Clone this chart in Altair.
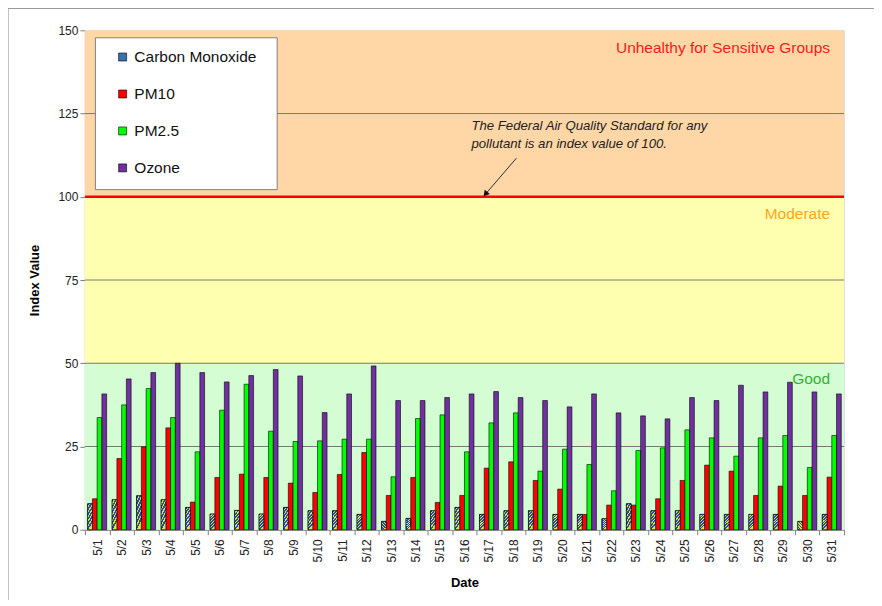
import altair as alt
import pandas as pd

dates = ["5/1", "5/2", "5/3", "5/4", "5/5", "5/6", "5/7", "5/8", "5/9", "5/10",
         "5/11", "5/12", "5/13", "5/14", "5/15", "5/16", "5/17", "5/18", "5/19", "5/20",
         "5/21", "5/22", "5/23", "5/24", "5/25", "5/26", "5/27", "5/28", "5/29", "5/30", "5/31"]
series = ["Carbon Monoxide", "PM10", "PM2.5", "Ozone"]
colors = ["#3a6fb0", "#ff0000", "#00ff00", "#7030a0"]

co = [7.8, 9, 10.2, 9, 6.7, 4.7, 5.8, 4.7, 6.7, 5.7, 5.7, 4.6, 2.5, 3.4, 5.7, 6.7,
      4.6, 5.7, 5.7, 4.6, 4.6, 3.3, 7.8, 5.7, 5.7, 4.6, 4.6, 4.6, 4.6, 2.5, 4.6]
pm10 = [9.3, 21.4, 24.9, 30.6, 8.3, 15.7, 16.7, 15.7, 14, 11.2, 16.6, 23.2, 10.3, 15.7, 8.2, 10.3,
        18.5, 20.4, 14.8, 12.2, 4.6, 7.4, 7.4, 9.3, 14.8, 19.4, 17.6, 10.3, 13.1, 10.3, 15.8]
pm25 = [33.7, 37.5, 42.4, 33.7, 23.4, 35.9, 43.7, 29.6, 26.5, 26.7, 27.2, 27.2, 15.9, 33.4, 34.5, 23.4,
        32.1, 35.1, 17.6, 24.2, 19.6, 11.7, 23.8, 24.6, 30, 27.6, 22.1, 27.6, 28.3, 18.7, 28.3]
ozone = [40.8, 45.3, 47.2, 50, 47.2, 44.4, 46.3, 48.1, 46.2, 35.2, 40.8, 49.2, 38.8, 38.8, 39.7, 40.8,
         41.5, 39.7, 38.8, 36.9, 40.8, 35.1, 34.2, 33.3, 39.7, 38.8, 43.4, 41.4, 44.3, 41.4, 40.8]

band_low = [0, 50, 100]
band_high = [50, 100, 150]
band_colors = ["#d4fdd4", "#ffffb0", "#ffd6a6"]
grid_values = [25, 50, 75, 125]
y_ticks = [0, 25, 50, 75, 100, 125, 150]

region_labels = ["Good", "Moderate", "Unhealthy for Sensitive Groups"]
region_label_y = [45.3, 94.8, 144.6]
region_label_colors = ["#33b033", "#ffa520", "#ff1a1a"]

note_lines = ["The Federal Air Quality Standard for any", "pollutant is an index value of 100."]
standard_value = [100]

rows = []
for name, vals in zip(series, [co, pm10, pm25, ozone]):
    for d, v in zip(dates, vals):
        rows.append({"Date": d, "series": name, "value": v})
df = pd.DataFrame(rows)

bands_df = pd.DataFrame({"lo": band_low, "hi": band_high, "c": band_colors})
grid_df = pd.DataFrame({"g": grid_values})
labels_df = pd.DataFrame({"t": region_labels, "y": region_label_y, "c": region_label_colors})
std_df = pd.DataFrame({"v": standard_value})

W, H = 760, 500
FONT = "Liberation Sans"
YT = "Index Value"

yscale = alt.Scale(domain=[0, 150], nice=False, zero=True)
yaxis = alt.Axis(values=y_ticks, grid=False, labelFontSize=12, labelColor="#222",
                 titleFontSize=13, titleFontWeight="bold", titlePadding=16,
                 domainColor="#808080", tickColor="#808080", tickSize=5)

bands = alt.Chart(bands_df).mark_rect().encode(
    x=alt.value(0), x2=alt.value(W),
    y=alt.Y("lo:Q", scale=yscale, axis=yaxis, title=YT), y2="hi:Q",
    fill=alt.Fill("c:N", scale=None),
)

grid = alt.Chart(grid_df).mark_rule(color="#777777", strokeWidth=1).encode(
    x=alt.value(0), x2=alt.value(W),
    y=alt.Y("g:Q", scale=yscale, axis=yaxis, title=YT),
)

xenc = alt.X("Date:N", sort=dates, title="Date",
             scale=alt.Scale(paddingInner=0, paddingOuter=0),
             axis=alt.Axis(labelAngle=270, tickBand="extent", labelFontSize=12,
                           labelColor="#222", titleFontSize=13, titleFontWeight="bold",
                           titlePadding=14, domainColor="#808080", tickColor="#808080",
                           tickSize=5, labelPadding=4))
xoff = alt.XOffset("series:N", sort=series,
                   scale=alt.Scale(domain=series, paddingInner=0, paddingOuter=0.58))

bars = alt.Chart(df).mark_bar(stroke="black", strokeWidth=0.6).encode(
    x=xenc,
    xOffset=xoff,
    y=alt.Y("value:Q", scale=yscale, title=YT, axis=yaxis),
    color=alt.Color("series:N", sort=series,
                    scale=alt.Scale(domain=series, range=colors),
                    legend=alt.Legend(title="\u00a0\u00a0", titleOrient="right", titlePadding=8,
                                      titleFontSize=15,
                                      orient="none", legendX=10, legendY=7,
                                      fillColor="white", strokeColor="#808080",
                                      padding=12, symbolOffset=8, rowPadding=20,
                                      labelFontSize=15.5, labelFont=FONT, labelColor="#111",
                                      symbolType="square", symbolSize=64,
                                      symbolStrokeColor="black", symbolStrokeWidth=0.6,
                                      labelOffset=4)),
)

stops = []
n = 6
for i in range(n):
    a = i / n
    b = (i + 0.6) / n
    c = (i + 1) / n
    stops += [alt.GradientStop(color="#1f50b0", offset=a), alt.GradientStop(color="#1f50b0", offset=b),
              alt.GradientStop(color="#e8e040", offset=b), alt.GradientStop(color="#e8e040", offset=c)]
hatch = alt.LinearGradient(gradient="linear", stops=stops, x1=0, y1=0, x2=0.3, y2=1)

co_bars = alt.Chart(df).transform_filter(alt.datum.series == "Carbon Monoxide").mark_bar(
    stroke="black", strokeWidth=0.6, fill=hatch).encode(
    x=alt.X("Date:N", sort=dates),
    xOffset=xoff,
    y=alt.Y("value:Q", scale=yscale, title=YT, axis=yaxis),
)

std_line = alt.Chart(std_df).mark_rule(color="#ff0000", strokeWidth=2.5).encode(
    x=alt.value(0), x2=alt.value(W),
    y=alt.Y("v:Q", scale=yscale, axis=yaxis, title=YT),
)

region_text = alt.Chart(labels_df).mark_text(align="right", baseline="middle",
                                              fontSize=15.5, font=FONT).encode(
    x=alt.value(746),
    y=alt.Y("y:Q", scale=yscale, axis=yaxis, title=YT),
    text="t:N",
    color=alt.Color("c:N", scale=None),
)

note = alt.Chart(pd.DataFrame({"t": [note_lines]})).mark_text(
    align="left", baseline="top", fontSize=13.2, font=FONT, fontStyle="italic",
    color="#222", lineHeight=18).encode(
    x=alt.value(387), y=alt.value(90), text="t",
)

arrow_line = alt.Chart(std_df).mark_rule(color="#333", strokeWidth=1).encode(
    x=alt.value(432), y=alt.value(128), x2=alt.value(401), y2=alt.value(164),
)
arrow_head = alt.Chart(std_df).mark_point(shape="triangle-up", filled=True, color="#111",
                                          size=45, angle=220, opacity=1).encode(
    x=alt.value(401), y=alt.value(164),
)

frame_top = alt.Chart(std_df).mark_rule(color="#9a9a9a", strokeWidth=1.2).encode(
    x=alt.value(-77), x2=alt.value(800), y=alt.value(-22),
)
frame_left = alt.Chart(std_df).mark_rule(color="#9a9a9a", strokeWidth=1.2).encode(
    x=alt.value(-77), y=alt.value(-22), y2=alt.value(571),
)
frame_bottom = alt.Chart(std_df).mark_rule(color="#e6e6e6", strokeWidth=1).encode(
    x=alt.value(-77), x2=alt.value(800), y=alt.value(571),
)

chart = alt.layer(bands, grid, bars, co_bars, std_line, region_text, note,
                  arrow_line, arrow_head, frame_top, frame_left, frame_bottom).properties(
    width=W, height=H,
    autosize=alt.AutoSizeParams(type="none"),
    padding={"left": 77, "top": 22, "right": 30, "bottom": 70},
).configure_view(stroke="#808080", strokeWidth=1).configure(
    font=FONT, background="white"
).configure_axis(labelFont=FONT, titleFont=FONT)

chart.save("out.html", embed_options={"renderer": "svg", "actions": False})
